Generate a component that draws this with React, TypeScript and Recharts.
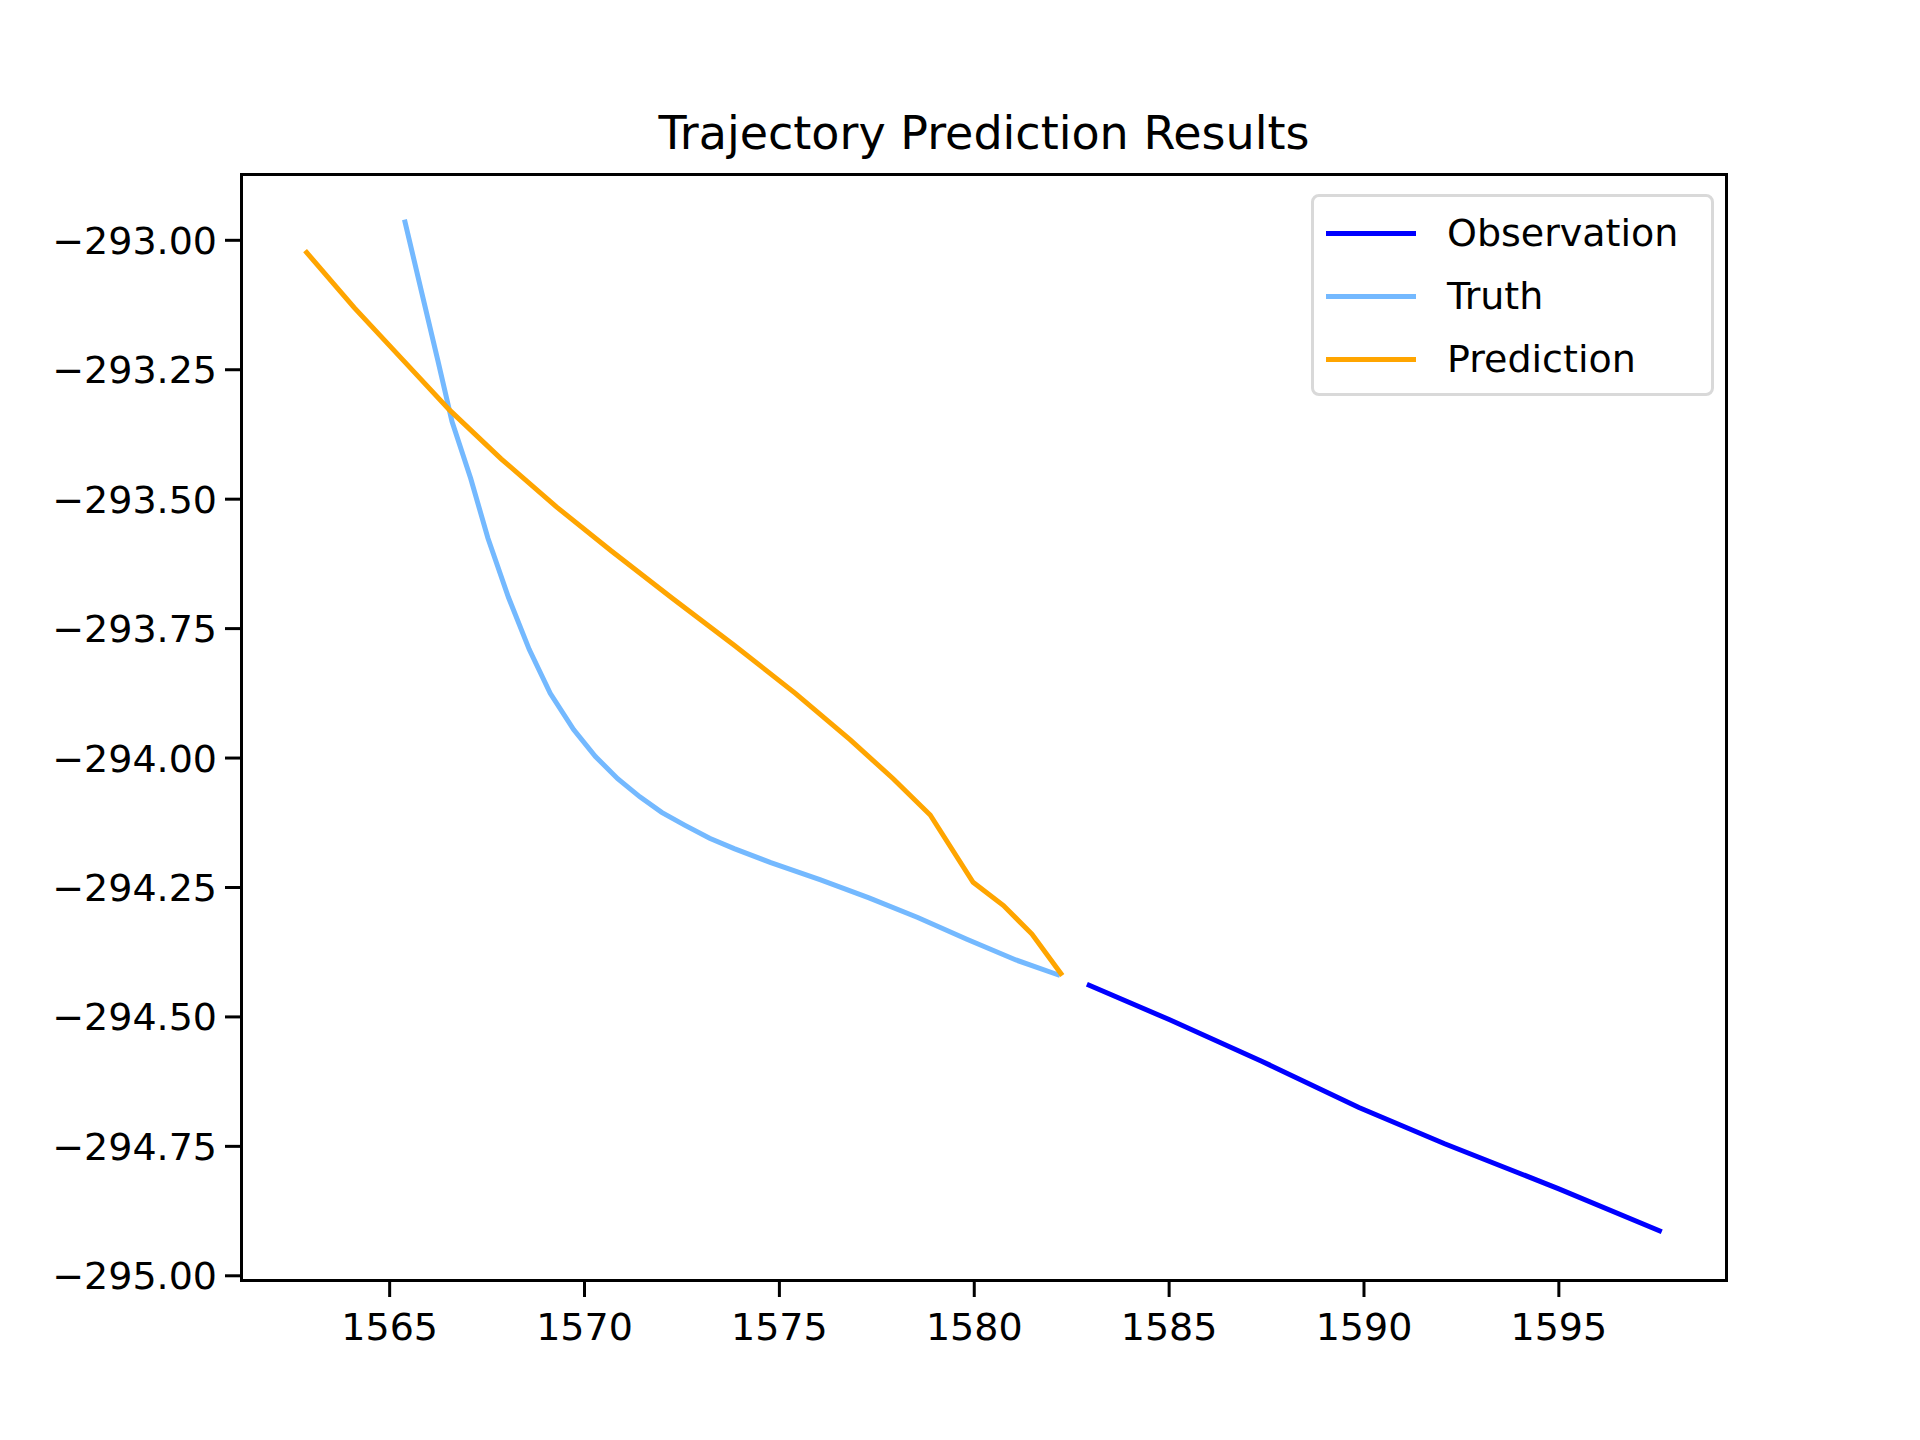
import React from 'react';
import { ComposedChart, Scatter, XAxis, YAxis } from 'recharts';

const observation = [
  { x: 1582.89, y: -294.437 }, { x: 1585.0, y: -294.505 }, { x: 1587.36, y: -294.585 },
  { x: 1589.87, y: -294.675 }, { x: 1592.07, y: -294.745 }, { x: 1595.0, y: -294.832 },
  { x: 1597.64, y: -294.915 },
];

const truth = [
  { x: 1565.38, y: -292.96 }, { x: 1565.82, y: -293.1 }, { x: 1566.23, y: -293.23 },
  { x: 1566.6, y: -293.35 }, { x: 1567.08, y: -293.46 }, { x: 1567.52, y: -293.575 },
  { x: 1568.05, y: -293.69 }, { x: 1568.58, y: -293.79 }, { x: 1569.12, y: -293.875 },
  { x: 1569.72, y: -293.945 }, { x: 1570.28, y: -293.997 }, { x: 1570.85, y: -294.04 },
  { x: 1571.42, y: -294.075 }, { x: 1571.98, y: -294.105 }, { x: 1572.58, y: -294.13 },
  { x: 1573.21, y: -294.155 }, { x: 1573.84, y: -294.175 }, { x: 1574.78, y: -294.202 },
  { x: 1576.04, y: -294.235 }, { x: 1577.3, y: -294.27 }, { x: 1578.55, y: -294.308 },
  { x: 1579.81, y: -294.35 }, { x: 1581.07, y: -294.39 }, { x: 1582.2, y: -294.42 },
];

const prediction = [
  { x: 1562.83, y: -293.02 }, { x: 1564.09, y: -293.13 }, { x: 1565.35, y: -293.232 },
  { x: 1566.54, y: -293.328 }, { x: 1567.86, y: -293.422 }, { x: 1569.28, y: -293.515 },
  { x: 1570.69, y: -293.6 }, { x: 1572.26, y: -293.692 }, { x: 1573.84, y: -293.782 },
  { x: 1575.41, y: -293.875 }, { x: 1576.82, y: -293.965 }, { x: 1577.92, y: -294.04 },
  { x: 1578.87, y: -294.11 }, { x: 1579.97, y: -294.24 }, { x: 1580.75, y: -294.285 },
  { x: 1581.48, y: -294.34 }, { x: 1582.26, y: -294.42 },
];

const xTicks = [1565, 1570, 1575, 1580, 1585, 1590, 1595];
const yTicks = [-293, -293.25, -293.5, -293.75, -294, -294.25, -294.5, -294.75, -295];

const legendItems = [
  { name: 'Observation', color: '#0000ff' },
  { name: 'Truth', color: '#74b9ff' },
  { name: 'Prediction', color: '#ffa500' },
];

const font = '"DejaVu Sans", sans-serif';
const fmtY = (v: number) => (v < 0 ? '\u2212' : '') + Math.abs(v).toFixed(2);
const noDot = () => null;

export default function App() {
  return (
    <div style={{ position: 'relative', width: 1920, height: 1440, margin: -8, background: '#fff', fontFamily: font }}>
      <div style={{ position: 'absolute', left: 240, width: 1488, top: 106, textAlign: 'center', fontSize: 46, color: '#000' }}>
        Trajectory Prediction Results
      </div>
      <ComposedChart width={1920} height={1440} margin={{ top: 173, right: 192, left: 40, bottom: 58 }}>
        <XAxis
          type="number"
          dataKey="x"
          domain={[1561.16, 1599.34]}
          ticks={xTicks}
          axisLine={false}
          tickSize={15}
          tickLine={{ stroke: '#000', strokeWidth: 3 }}
          tick={{ fontSize: 38, fill: '#000', fontFamily: font, dy: 14 }}
          height={100}
          allowDataOverflow
        />
        <YAxis
          type="number"
          dataKey="y"
          domain={[-295.012, -292.87]}
          ticks={yTicks}
          tickFormatter={fmtY}
          axisLine={false}
          tickSize={15}
          tickLine={{ stroke: '#000', strokeWidth: 3 }}
          tick={{ fontSize: 38, fill: '#000', fontFamily: font, dx: -6 }}
          width={200}
          allowDataOverflow
        />
        <Scatter data={truth} line={{ stroke: '#74b9ff', strokeWidth: 5 }} shape={noDot} isAnimationActive={false} />
        <Scatter data={prediction} line={{ stroke: '#ffa500', strokeWidth: 5 }} shape={noDot} isAnimationActive={false} />
        <Scatter data={observation} line={{ stroke: '#0000ff', strokeWidth: 5 }} shape={noDot} isAnimationActive={false} />
      </ComposedChart>
      <div style={{ position: 'absolute', left: 240, top: 173, width: 1488, height: 1109, border: '3px solid #000', boxSizing: 'border-box', pointerEvents: 'none' }} />
      <div style={{ position: 'absolute', left: 1311, top: 194, width: 403, height: 202, border: '3px solid #d9d9d9', borderRadius: 8, boxSizing: 'border-box', background: 'rgba(255,255,255,0.8)' }}>
        {legendItems.map((it, i) => (
          <div key={it.name} style={{ position: 'absolute', left: 12, top: 14 + i * 63, display: 'flex', alignItems: 'center', height: 44 }}>
            <div style={{ width: 90, height: 5, background: it.color }} />
            <span style={{ marginLeft: 31, fontSize: 38, color: '#000' }}>{it.name}</span>
          </div>
        ))}
      </div>
    </div>
  );
}
